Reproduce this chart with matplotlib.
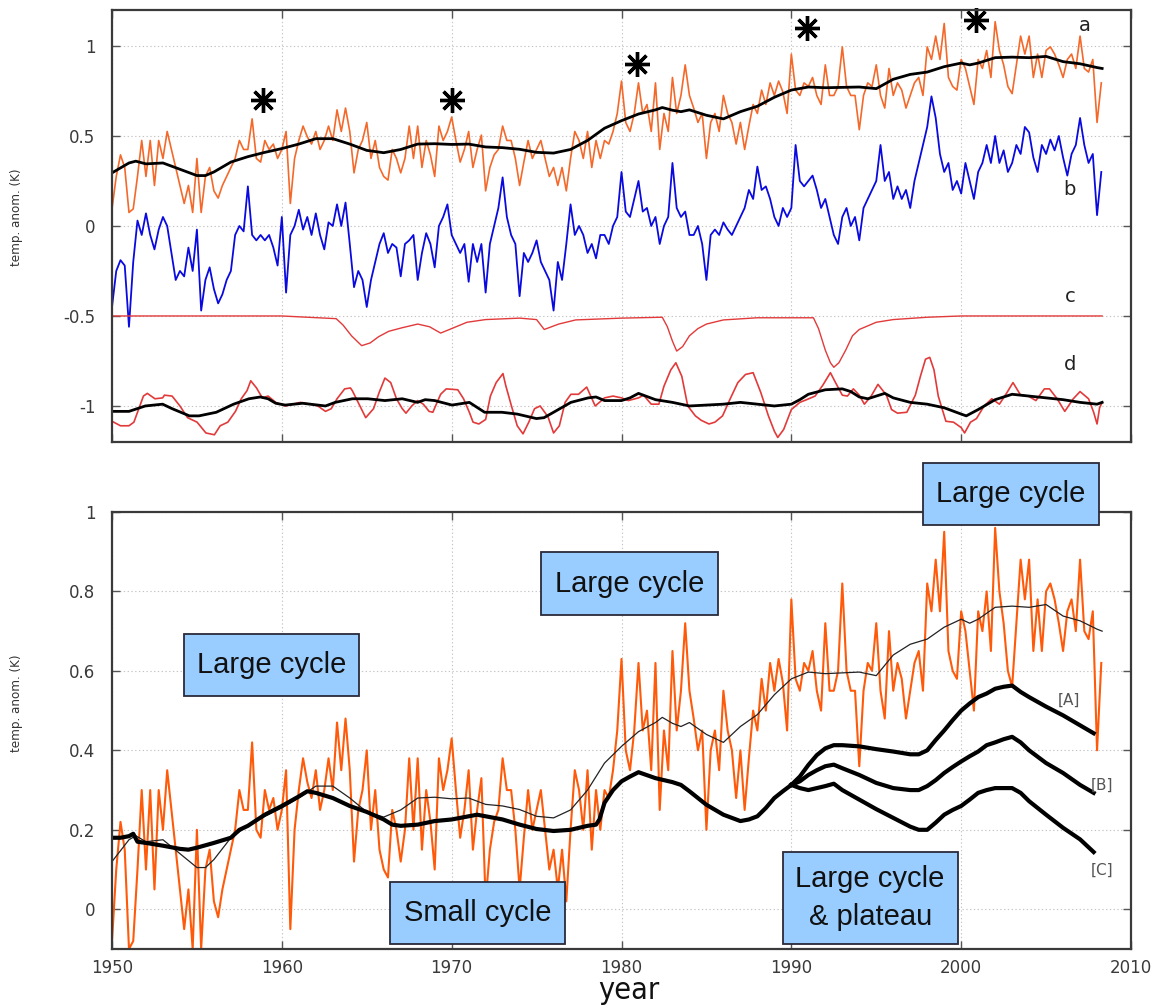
import matplotlib
matplotlib.use("Agg")
import matplotlib.pyplot as plt
import numpy as np
from matplotlib.patches import Rectangle

# ---------------------------------------------------------------- data
# monthly temperature anomaly, read off at quarter-year steps from 1950.0
hadcrut = [
    -0.08, 0.10, 0.22, 0.15, -0.10, -0.08, 0.10, 0.30, 0.10, 0.30, 0.05, 0.30,
    0.20, 0.35, 0.25, 0.15, 0.05, -0.05, 0.05, -0.10, 0.20, -0.10, 0.10, 0.15,
    0.02, -0.02, 0.05, 0.10, 0.15, 0.20, 0.30, 0.25, 0.25, 0.42, 0.20, 0.18,
    0.30, 0.25, 0.28, 0.20, 0.25, 0.35, -0.05, 0.20, 0.30, 0.38, 0.32, 0.28,
    0.35, 0.25, 0.30, 0.38, 0.30, 0.47, 0.35, 0.48, 0.35, 0.12, 0.25, 0.30,
    0.40, 0.20, 0.30, 0.15, 0.10, 0.08, 0.25, 0.20, 0.12, 0.20, 0.38, 0.20,
    0.38, 0.15, 0.30, 0.22, 0.10, 0.38, 0.30, 0.35, 0.43, 0.30, 0.18, 0.25,
    0.35, 0.15, 0.25, 0.33, 0.02, 0.15, 0.22, 0.25, 0.38, 0.30, 0.30, 0.20,
    0.05, 0.18, 0.30, 0.20, 0.25, 0.30, 0.20, 0.10, 0.15, 0.05, 0.15, 0.02,
    0.20, 0.35, 0.30, 0.20, 0.35, 0.15, 0.30, 0.20, 0.30, 0.28, 0.35, 0.45,
    0.63, 0.40, 0.35, 0.45, 0.62, 0.45, 0.50, 0.35, 0.62, 0.25, 0.45, 0.35,
    0.65, 0.45, 0.55, 0.72, 0.55, 0.48, 0.40, 0.45, 0.20, 0.40, 0.45, 0.35,
    0.55, 0.45, 0.40, 0.28, 0.40, 0.25, 0.38, 0.50, 0.45, 0.58, 0.50, 0.62,
    0.55, 0.63, 0.57, 0.45, 0.78, 0.58, 0.55, 0.62, 0.60, 0.65, 0.55, 0.50,
    0.72, 0.55, 0.55, 0.60, 0.82, 0.60, 0.55, 0.55, 0.36, 0.55, 0.62, 0.60,
    0.72, 0.55, 0.48, 0.70, 0.55, 0.62, 0.58, 0.48, 0.55, 0.62, 0.65, 0.55,
    0.82, 0.75, 0.88, 0.75, 0.95, 0.65, 0.60, 0.58, 0.75, 0.70, 0.60, 0.50,
    0.75, 0.70, 0.80, 0.65, 0.96, 0.80, 0.72, 0.60, 0.56, 0.72, 0.88, 0.78,
    0.88, 0.65, 0.78, 0.65, 0.80, 0.82, 0.78, 0.72, 0.65, 0.75, 0.78, 0.70,
    0.88, 0.70, 0.68, 0.75, 0.40, 0.62,
]

# series b (blue), same quarter-year steps
series_b = [
    -0.45, -0.25, -0.19, -0.22, -0.56, -0.20, 0.03, -0.05, 0.07, -0.05, -0.13, -0.02,
    0.05, 0.00, -0.15, -0.30, -0.25, -0.28, -0.12, -0.25, -0.02, -0.47, -0.30, -0.23,
    -0.35, -0.43, -0.38, -0.30, -0.25, -0.05, 0.00, -0.03, 0.22, -0.05, -0.08, -0.05,
    -0.08, -0.05, -0.12, -0.22, 0.05, -0.37, -0.05, 0.00, 0.09, -0.02, 0.05, -0.05,
    0.07, -0.05, -0.13, 0.02, 0.00, 0.12, 0.00, 0.13, -0.10, -0.34, -0.25, -0.30,
    -0.45, -0.30, -0.20, -0.10, -0.04, -0.15, -0.10, -0.12, -0.28, -0.10, -0.08, -0.05,
    -0.30, -0.15, -0.04, -0.10, -0.23, 0.00, 0.05, 0.12, -0.05, -0.10, -0.15, -0.10,
    -0.31, -0.10, -0.20, -0.10, -0.37, -0.10, 0.00, 0.10, 0.27, 0.05, -0.05, -0.10,
    -0.39, -0.15, -0.20, -0.15, -0.08, -0.20, -0.25, -0.30, -0.47, -0.20, -0.30, -0.10,
    0.12, -0.05, 0.00, -0.05, -0.15, -0.10, -0.18, -0.05, -0.05, -0.10, 0.00, 0.05,
    0.30, 0.08, 0.05, 0.15, 0.25, 0.08, 0.10, 0.00, 0.05, -0.10, 0.00, 0.05,
    0.35, 0.10, 0.05, 0.08, -0.05, -0.05, 0.00, -0.10, -0.30, -0.05, -0.02, -0.05,
    0.02, -0.02, -0.05, 0.00, 0.05, 0.10, 0.20, 0.15, 0.33, 0.20, 0.22, 0.15,
    0.05, 0.00, 0.10, 0.05, 0.10, 0.45, 0.25, 0.22, 0.25, 0.28, 0.20, 0.10,
    0.15, 0.05, -0.05, -0.10, 0.05, 0.10, 0.00, 0.05, -0.08, 0.10, 0.15, 0.20,
    0.25, 0.45, 0.25, 0.30, 0.15, 0.22, 0.15, 0.20, 0.10, 0.25, 0.35, 0.45,
    0.55, 0.72, 0.60, 0.40, 0.30, 0.35, 0.20, 0.25, 0.18, 0.35, 0.25, 0.15,
    0.30, 0.35, 0.45, 0.35, 0.50, 0.35, 0.42, 0.30, 0.35, 0.45, 0.40, 0.55,
    0.52, 0.38, 0.30, 0.45, 0.40, 0.48, 0.42, 0.50, 0.38, 0.28, 0.40, 0.45,
    0.60, 0.45, 0.35, 0.40, 0.06, 0.30,
]

# running mean of hadcrut (thin black below, thick black on top panel)
smooth_years = [
    1950, 1951, 1951.4, 1952, 1953, 1954, 1955, 1955.5, 1956, 1957, 1958, 1959,
    1960, 1961, 1962, 1963, 1964, 1965, 1966, 1967, 1968, 1969, 1970, 1971,
    1972, 1973, 1974, 1975, 1976, 1977, 1978, 1979, 1980, 1981, 1982, 1982.4,
    1983, 1983.5, 1984, 1985, 1986, 1987, 1988, 1989, 1990, 1991, 1992, 1993,
    1994, 1995, 1996, 1997, 1998, 1999, 2000, 2000.5, 2001, 2002, 2003, 2004,
    2005, 2006, 2007, 2008, 2008.3,
]
smooth_vals = [
    0.12, 0.175, 0.185, 0.17, 0.175, 0.14, 0.105, 0.105, 0.125, 0.18, 0.21, 0.234,
    0.255, 0.28, 0.31, 0.31, 0.28, 0.245, 0.232, 0.25, 0.28, 0.282, 0.278, 0.28,
    0.264, 0.26, 0.251, 0.234, 0.23, 0.25, 0.30, 0.368, 0.41, 0.447, 0.47, 0.483,
    0.468, 0.46, 0.47, 0.44, 0.42, 0.46, 0.49, 0.54, 0.58, 0.597, 0.593, 0.595,
    0.597, 0.588, 0.64, 0.667, 0.68, 0.71, 0.73, 0.72, 0.73, 0.76, 0.763, 0.76,
    0.767, 0.738, 0.726, 0.705, 0.70,
]
offset_a = 0.175  # vertical shift of curve a in the top panel

# c: volcanic term
c_years = [
    1950, 1960, 1963.2, 1963.6, 1964.1, 1964.7, 1965.2, 1965.7, 1966.3, 1967.1,
    1968.0, 1968.7, 1969.35, 1970.0, 1970.9, 1972.0, 1974.0, 1975.0, 1975.45, 1976.3,
    1977.3, 1980, 1982.4, 1982.7, 1983.0, 1983.25, 1983.6, 1984.0, 1984.5, 1985.0,
    1986.0, 1988.0, 1991.3, 1991.6, 1992.0, 1992.3, 1992.5, 1992.8, 1993.2, 1993.6,
    1994.0, 1995.0, 1996.0, 1998.0, 2000.0, 2008.3,
]
c_vals = [
    -0.5, -0.5, -0.515, -0.55, -0.61, -0.665, -0.65, -0.615, -0.585, -0.565,
    -0.545, -0.56, -0.595, -0.57, -0.535, -0.52, -0.512, -0.52, -0.575, -0.545,
    -0.522, -0.512, -0.507, -0.56, -0.64, -0.695, -0.67, -0.61, -0.57, -0.545,
    -0.522, -0.51, -0.51, -0.57, -0.69, -0.76, -0.785, -0.76, -0.69, -0.61,
    -0.575, -0.535, -0.52, -0.507, -0.5, -0.5,
]

# d: red wiggle (ENSO-like) and black smooth
d_red_years = [
    1950.0, 1950.5, 1951.0, 1951.29, 1951.85, 1952.08, 1952.53, 1952.98, 1953.09, 1953.54,
    1954.0, 1954.45, 1955.01, 1955.53, 1956.03, 1956.37, 1956.82, 1957.27, 1957.61, 1957.95,
    1958.17, 1958.51, 1958.85, 1959.19, 1959.64, 1960.2, 1960.65, 1961.1, 1961.67, 1962.12,
    1962.57, 1962.91, 1963.25, 1963.7, 1964.04, 1964.15, 1964.6, 1964.94, 1965.4, 1965.73,
    1966.07, 1966.41, 1966.75, 1967.09, 1967.31, 1967.65, 1967.99, 1968.33, 1968.67, 1968.89,
    1969.35, 1969.68, 1970.36, 1970.7, 1971.04, 1971.26, 1971.6, 1972.0, 1972.28, 1972.62,
    1973.02, 1973.18, 1973.52, 1973.86, 1974.2, 1974.54, 1974.88, 1975.21, 1975.67, 1976.0,
    1976.34, 1976.68, 1977.02, 1977.47, 1977.95, 1978.45, 1978.7, 1979.0, 1979.5, 1980.0,
    1980.4, 1981.0, 1981.3, 1981.75, 1982.2, 1982.5, 1982.9, 1983.2, 1983.55, 1983.9,
    1984.35, 1984.7, 1985.15, 1985.5, 1985.95, 1986.4, 1986.85, 1987.3, 1987.75, 1988.2,
    1988.65, 1989.0, 1989.2, 1989.55, 1990.0, 1990.5, 1990.9, 1991.4, 1991.85, 1992.3,
    1992.6, 1993.0, 1993.3, 1993.65, 1994.0, 1994.3, 1994.7, 1995.1, 1995.6, 1995.9,
    1996.25, 1996.8, 1997.3, 1997.6, 1997.9, 1998.15, 1998.4, 1998.65, 1999.1, 1999.55,
    2000.0, 2000.2, 2000.55, 2000.9, 2001.35, 2001.8, 2002.25, 2002.7, 2003.05, 2003.5,
    2003.95, 2004.4, 2004.9, 2005.2, 2005.65, 2006.1, 2006.6, 2007.0, 2007.5, 2007.8,
    2008.0, 2008.15, 2008.3,
]
d_red_vals = [
    -1.085, -1.11, -1.11, -1.09, -0.945, -0.93, -0.96, -0.955, -0.94, -0.945,
    -1.0, -1.065, -1.09, -1.15, -1.16, -1.11, -1.09, -1.03, -0.96, -0.915,
    -0.86, -0.9, -0.955, -0.945, -0.98, -1.0, -0.99, -0.98, -0.99, -1.0,
    -1.03, -1.015, -0.96, -0.905, -0.9, -0.915, -1.0, -1.065, -1.015, -0.925,
    -0.845, -0.87, -0.96, -1.015, -1.04, -1.0, -0.97, -0.99, -1.03, -1.035,
    -0.935, -0.905, -0.91, -0.96, -1.035, -1.09, -1.1, -1.075, -0.945, -0.87,
    -0.82, -0.885, -1.0, -1.11, -1.155, -1.09, -1.015, -1.0, -1.06, -1.15,
    -1.11, -0.98, -0.935, -0.935, -0.895, -1.0, -0.98, -0.955, -0.945, -0.955,
    -0.97, -0.955, -0.94, -0.99, -0.99, -0.89, -0.80, -0.76, -0.835, -1.0,
    -1.055, -1.08, -1.1, -1.09, -1.055, -0.96, -0.87, -0.825, -0.815, -0.925,
    -1.055, -1.14, -1.175, -1.13, -1.02, -0.98, -0.965, -0.945, -0.885, -0.815,
    -0.87, -0.94, -0.945, -0.905, -0.94, -0.99, -0.945, -0.88, -0.94, -1.02,
    -1.04, -1.035, -0.94, -0.835, -0.74, -0.73, -0.80, -0.945, -1.085, -1.09,
    -1.12, -1.15, -1.09, -1.07, -1.0, -0.96, -0.99, -0.925, -0.87, -0.94,
    -0.945, -0.97, -0.905, -0.905, -0.96, -1.03, -0.96, -0.92, -0.96, -1.035,
    -1.1, -1.01, -0.98,
]
d_black_years = [
    1950.0, 1951.0, 1951.96, 1952.98, 1953.54, 1954.56, 1955.12, 1956.14, 1957.16, 1958.06,
    1958.74, 1959.19, 1959.64, 1960.2, 1961.22, 1962.12, 1962.57, 1963.14, 1964.15, 1965.06,
    1966.07, 1967.09, 1967.99, 1968.44, 1969.0, 1970.02, 1971.04, 1971.94, 1972.96, 1973.86,
    1974.99, 1975.44, 1976.0, 1977.02, 1978.04, 1978.5, 1979, 1980, 1980.5, 1981,
    1982, 1983, 1984, 1985, 1986, 1987, 1988, 1989, 1990, 1990.5,
    1991, 1992, 1993, 1993.5, 1994, 1994.5, 1995.5, 1996, 1997, 1998,
    1999, 2000, 2000.3, 2001, 2002, 2003, 2004, 2005, 2006, 2007,
    2008, 2008.3,
]
d_black_vals = [
    -1.03, -1.03, -1.0, -0.99, -1.015, -1.055, -1.055, -1.035, -0.99, -0.96,
    -0.95, -0.96, -0.985, -0.995, -0.985, -0.995, -1.0, -0.98, -0.96, -0.96,
    -0.97, -0.96, -0.98, -0.965, -0.97, -0.995, -0.98, -1.035, -1.035, -1.045,
    -1.07, -1.065, -1.035, -0.98, -0.955, -0.95, -0.97, -0.97, -0.955, -0.93,
    -0.965, -0.98, -1.0, -0.995, -0.99, -0.98, -0.99, -1.0, -0.99, -0.965,
    -0.935, -0.91, -0.905, -0.92, -0.95, -0.96, -0.93, -0.955, -0.98, -0.99,
    -1.01, -1.045, -1.055, -1.02, -0.965, -0.935, -0.945, -0.955, -0.965, -0.98,
    -0.99, -0.98,
]

# solar maxima markers
star_years = [1958.9, 1970.0, 1980.9, 1990.9, 2000.85]
star_vals = [0.70, 0.70, 0.90, 1.10, 1.146]

# model curve (thick black), common part up to 1990, then scenarios [A] [B] [C]
model_years = [
    1950, 1950.5, 1951, 1951.25, 1951.5, 1952, 1953, 1954, 1954.5, 1955,
    1956, 1957, 1957.5, 1958, 1959, 1960, 1961, 1961.5, 1962, 1963,
    1964, 1965, 1966, 1966.5, 1967, 1968, 1969, 1970, 1971, 1971.5,
    1972, 1973, 1974, 1975, 1976, 1977, 1977.5, 1978, 1978.5, 1978.7,
    1979, 1979.5, 1980, 1980.5, 1981, 1982, 1983, 1983.5, 1984, 1985,
    1986, 1986.5, 1987, 1987.5, 1988, 1988.5, 1989, 1989.5, 1990,
]
model_common = [
    0.18, 0.18, 0.184, 0.19, 0.17, 0.167, 0.16, 0.152, 0.15, 0.155,
    0.167, 0.18, 0.2, 0.21, 0.238, 0.26, 0.284, 0.297, 0.293, 0.28,
    0.26, 0.245, 0.226, 0.213, 0.21, 0.213, 0.222, 0.226, 0.234, 0.238,
    0.234, 0.226, 0.213, 0.202, 0.197, 0.2, 0.205, 0.21, 0.213, 0.226,
    0.268, 0.3, 0.322, 0.334, 0.345, 0.33, 0.32, 0.313, 0.297, 0.263,
    0.238, 0.23, 0.222, 0.226, 0.234, 0.255, 0.28, 0.297, 0.313,
]
branch_years = [
    1990, 1990.5, 1991, 1991.5, 1992, 1992.5, 1993, 1994, 1995, 1996,
    1997, 1997.5, 1998, 1998.5, 1999, 1999.5, 2000, 2000.5, 2001, 2001.5,
    2002, 2002.5, 2003, 2003.5, 2004, 2005, 2006, 2007, 2007.8,
]
branch_a = [
    0.313, 0.334, 0.363, 0.388, 0.405, 0.413, 0.413, 0.41, 0.403, 0.397,
    0.39, 0.39, 0.40, 0.426, 0.45, 0.476, 0.50, 0.518, 0.534, 0.543,
    0.555, 0.56, 0.563, 0.547, 0.534, 0.51, 0.488, 0.463, 0.443,
]
branch_b = [
    0.313, 0.322, 0.338, 0.35, 0.36, 0.364, 0.355, 0.338, 0.318, 0.305,
    0.30, 0.30, 0.31, 0.325, 0.343, 0.358, 0.372, 0.385, 0.397, 0.413,
    0.42, 0.428, 0.434, 0.42, 0.40, 0.368, 0.343, 0.313, 0.293,
]
branch_c = [
    0.313, 0.305, 0.30, 0.305, 0.31, 0.316, 0.30, 0.276, 0.252, 0.23,
    0.208, 0.20, 0.20, 0.218, 0.238, 0.25, 0.26, 0.276, 0.293, 0.30,
    0.305, 0.305, 0.305, 0.293, 0.272, 0.238, 0.205, 0.176, 0.144,
]

quarter_years = 1950 + 0.25 * np.arange(len(hadcrut))

ORANGE = "#ff5a0a"
ORANGE_TOP = "#f4692a"
BLUE = "#0a0ae0"
RED = "#e23a3a"
BOX_FACE = "#99ccff"


def style_axes(ax, yticks, ytick_labels, show_xlabels):
    ax.set_xlim(1950, 2010)
    ax.set_xticks(range(1950, 2011, 10))
    ax.set_yticks(yticks)
    ax.set_yticklabels(ytick_labels)
    ax.grid(True, color="#c4c4c4", linestyle=(0, (1.2, 2.2)), linewidth=0.8)
    ax.set_axisbelow(True)
    ax.tick_params(axis="both", direction="in", length=6, width=1.0,
                   top=True, right=True, color="#555555",
                   labelsize=12, labelcolor="#3a3a3a")
    ax.tick_params(axis="y", pad=12)
    ax.tick_params(axis="x", pad=7, labelbottom=show_xlabels)
    for spine in ax.spines.values():
        spine.set_linewidth(1.6)
        spine.set_color("#3a3a3a")


fig = plt.figure(figsize=(11.63, 10.07), dpi=100)
ax_top = fig.add_axes([0.0963, 0.5611, 0.8762, 0.4290])
ax_bot = fig.add_axes([0.0963, 0.0576, 0.8762, 0.4340])

# ---------------------------------------------------------------- top panel
ax_top.plot(quarter_years, np.array(hadcrut) + offset_a, color=ORANGE_TOP, lw=1.2)
ax_top.plot(smooth_years, np.array(smooth_vals) + offset_a, color="black", lw=2.0)
ax_top.plot(quarter_years, series_b, color=BLUE, lw=1.3)
ax_top.plot(c_years, c_vals, color=RED, lw=1.0)
ax_top.plot(d_red_years, d_red_vals, color=RED, lw=1.2)
ax_top.plot(d_black_years, d_black_vals, color="black", lw=2.0)
ax_top.plot(star_years, star_vals, linestyle="none", marker=(8, 2, 0),
            markersize=18, markeredgewidth=2.4, color="black", clip_on=False)

ax_top.set_ylim(-1.2, 1.2)
style_axes(ax_top, [-1, -0.5, 0, 0.5, 1], ["-1", "-0.5", "0", "0.5", "1"], False)

for letter, xpos, ypos in [("a", 2007.3, 1.115), ("b", 2006.4, 0.20),
                           ("c", 2006.4, -0.39), ("d", 2006.4, -0.77)]:
    ax_top.text(xpos, ypos, letter, fontsize=14, color="#222222",
                ha="center", va="center")

# ---------------------------------------------------------------- bottom panel
ax_bot.plot(quarter_years, hadcrut, color=ORANGE, lw=1.5)
ax_bot.plot(smooth_years, smooth_vals, color="#222222", lw=0.9)
ax_bot.plot(model_years, model_common, color="black", lw=3.0, solid_joinstyle="round")
for branch in (branch_a, branch_b, branch_c):
    ax_bot.plot(branch_years, branch, color="black", lw=3.0, solid_joinstyle="round")

ax_bot.set_ylim(-0.1, 1.0)
style_axes(ax_bot, [0, 0.2, 0.4, 0.6, 0.8, 1.0],
           ["0", "0.2", "0.4", "0.6", "0.8", "1"], True)

for tag, xpos, ypos in [("[A]", 2006.35, 0.526), ("[B]", 2008.3, 0.313),
                        ("[C]", 2008.3, 0.097)]:
    ax_bot.text(xpos, ypos, tag, fontsize=11, color="#555555",
                ha="center", va="center")

# annotation boxes: (x0, x1, y0, y1, text)
boxes = [
    (1954.24, 1964.56, 0.536, 0.692, "Large cycle"),
    (1975.28, 1985.67, 0.740, 0.898, "Large cycle"),
    (1997.75, 2008.10, 0.966, 1.122, "Large cycle"),
    (1966.37, 1976.70, -0.087, 0.068, "Small cycle"),
    (1989.48, 1999.80, -0.087, 0.145, "Large cycle\n& plateau"),
]
for x0, x1, y0, y1, label in boxes:
    ax_bot.add_patch(Rectangle((x0, y0), x1 - x0, y1 - y0, facecolor=BOX_FACE,
                               edgecolor="#2a2a3a", linewidth=1.3,
                               zorder=5, clip_on=False))
    ax_bot.text((x0 + x1) / 2, (y0 + y1) / 2, label, fontsize=21,
                family="Liberation Sans", color="#111111", ha="center",
                va="center", linespacing=1.45, zorder=6)

# axis titles
for ycen in (217, 703):
    fig.text(17 / 1163, 1 - ycen / 1007, "temp. anom. (K)", rotation=90,
             fontsize=9.5, family="DejaVu Sans", fontstretch="condensed",
             color="#333333", ha="center", va="center")
fig.text(629 / 1163, 1 - 999 / 1007, "year", fontsize=22, family="DejaVu Sans",
         fontstretch="condensed", color="#111111", ha="center", va="baseline")

fig.savefig("out.png", dpi=100, facecolor="white")
